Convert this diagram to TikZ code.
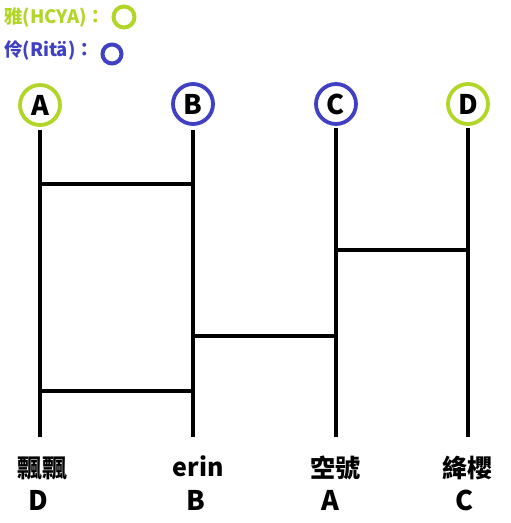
\documentclass[tikz,border=0pt]{standalone}
\usepackage{fontspec}
\setmainfont{Noto Sans CJK TC}
\usetikzlibrary{calc}
\definecolor{hcya}{RGB}{178,214,40}
\definecolor{rita}{RGB}{64,64,196}
\tikzset{
	pole/.style={line width=4.2pt},
	rung/.style={line width=4.2pt},
	ring/.style={circle, line width=3.8pt, minimum size=40pt, inner sep=0pt, font=\bfseries\fontsize{27}{27}\selectfont},
	result/.style={font=\bfseries\fontsize{25}{25}\selectfont},
	letter/.style={font=\bfseries\fontsize{27}{27}\selectfont},
	legend/.style={anchor=west, inner sep=0pt, font=\bfseries\fontsize{18.5}{18.5}\selectfont}
}

\begin{document}
\begin{tikzpicture}[x=1pt,y=-1pt]
				\useasboundingbox[fill=white] (0, 0) rectangle (511, 523);
				
				% legend
				\node[legend, text=hcya] (lgA) at (4, 17) {雅(HCYA)：};
				\draw[hcya, line width=4pt] (124, 17) circle (10.5);
				\node[legend, text=rita] (lgB) at (4, 50) {伶(Ritä)：};
				\draw[rita, line width=4pt] (112, 54) circle (9.5);
				
				% heads
				\node[ring, draw=hcya] (A) at (40, 105) {A};
				\node[ring, draw=rita] (B) at (193, 104) {B};
				\node[ring, draw=rita] (C) at (336, 104) {C};
				\node[ring, draw=hcya] (D) at (468, 104) {D};
				
				% poles
				\coordinate (Ae) at (40, 437);
				\coordinate (Be) at (193, 437);
				\coordinate (Ce) at (336, 437);
				\coordinate (De) at (468, 437);
				\draw[pole] (40, 130) -- (Ae);
				\draw[pole] (193, 130) -- (Be);
				\draw[pole] (336, 128) -- (Ce);
				\draw[pole] (468, 128) -- (De);
				
				% rungs
				\draw[rung] (40, 184) -- (193, 184);
				\draw[rung] (336, 250) -- (468, 250);
				\draw[rung] (193, 336) -- (336, 336);
				\draw[rung] (40, 391) -- (193, 391);
				
				% results
				\node[result] (nA) at (42, 468) {飄飄};
				\node[result] (nB) at (198, 466) {erin};
				\node[result] (nC) at (335, 468) {空號};
				\node[result] (nD) at (467, 468) {絳櫻};
				\node[letter] (rA) at (38, 500) {D};
				\node[letter] (rB) at (196, 500) {B};
				\node[letter] (rC) at (330, 500) {A};
				\node[letter] (rD) at (465, 500) {C};
			\end{tikzpicture}
\end{document}
